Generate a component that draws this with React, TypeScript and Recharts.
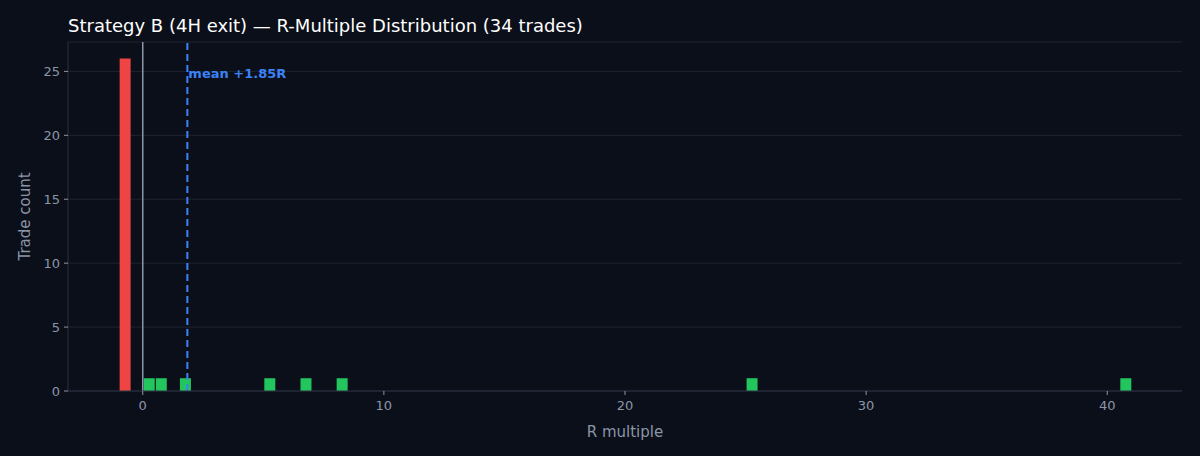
import React from 'react';
import { ComposedChart, Bar, XAxis, YAxis, CartesianGrid, ReferenceLine, Cell } from 'recharts';

const binCenters = [-0.75, 0.25, 0.75, 1.75, 5.25, 6.75, 8.25, 25.25, 40.75];
const binCounts = [26, 1, 1, 1, 1, 1, 1, 1, 1];
const xTicks = [0, 10, 20, 30, 40];
const yTicks = [0, 5, 10, 15, 20, 25];
const meanR = 1.85;
const tradeCount = 34;

const data = binCenters.map((c, i) => ({ r: c, count: binCounts[i] }));

const BG = '#0b0f19';
const GRID = '#1e2430';
const SPINE = '#2a3140';
const TICK = '#8b95a8';
const FONT = '"DejaVu Sans", sans-serif';

export default function App() {
  return (
    <div style={{ position: 'absolute', left: 0, top: 0, width: 1200, height: 456, background: BG, fontFamily: FONT }}>
      <div style={{ position: 'absolute', left: 68, top: 16, fontSize: 18, lineHeight: '20px', color: '#ffffff', whiteSpace: 'nowrap' }}>
        {`Strategy B (4H exit) — R-Multiple Distribution (${tradeCount} trades)`}
      </div>
      <ComposedChart
        width={1200}
        height={456}
        data={data}
        margin={{ top: 42, right: 18, left: 0, bottom: 0 }}
        style={{ position: 'absolute', left: 0, top: 0 }}
      >
        <CartesianGrid horizontal vertical={false} stroke={GRID} strokeWidth={1} />
        <XAxis
          xAxisId="top"
          orientation="top"
          type="number"
          dataKey="r"
          domain={[-3.1, 43.1]}
          height={0}
          tick={false}
          tickLine={false}
          axisLine={{ stroke: SPINE }}
        />
        <YAxis
          yAxisId="right"
          orientation="right"
          domain={[0, 27.3]}
          width={0}
          tick={false}
          tickLine={false}
          axisLine={{ stroke: SPINE }}
        />
        <XAxis
          type="number"
          dataKey="r"
          domain={[-3.1, 43.1]}
          ticks={xTicks}
          allowDataOverflow
          height={65}
          tickSize={4}
          tickMargin={6}
          tickLine={{ stroke: TICK }}
          axisLine={{ stroke: SPINE }}
          tick={{ fill: TICK, fontSize: 13, fontFamily: FONT }}
          label={{ value: 'R multiple', position: 'insideBottom', offset: 19, fill: TICK, fontSize: 15, fontFamily: FONT }}
        />
        <YAxis
          type="number"
          domain={[0, 27.3]}
          ticks={yTicks}
          allowDataOverflow
          width={68}
          tickSize={4}
          tickMargin={4}
          tickLine={{ stroke: TICK }}
          axisLine={{ stroke: SPINE }}
          tick={{ fill: TICK, fontSize: 13, fontFamily: FONT }}
          label={{
            content: (props: any) => {
              const vb = props.viewBox || { x: 0, y: 42, width: 68, height: 349 };
              const cx = vb.x + 25;
              const cy = vb.y + vb.height / 2;
              return (
                <text
                  x={cx}
                  y={cy}
                  transform={`rotate(-90, ${cx}, ${cy})`}
                  textAnchor="middle"
                  dominantBaseline="central"
                  fill={TICK}
                  fontSize={15}
                  fontFamily={FONT}
                >
                  Trade count
                </text>
              );
            },
          }}
        />
        <Bar dataKey="count" barSize={11} isAnimationActive={false}>
          {data.map((d, i) => (
            <Cell key={i} fill={d.r < 0 ? '#ef4444' : '#22c55e'} />
          ))}
        </Bar>
        <ReferenceLine x={0} stroke="#8d97aa" strokeWidth={1.5} />
        <ReferenceLine
          x={meanR}
          stroke="#3b82f6"
          strokeWidth={2}
          strokeDasharray="7 4"
          label={{
            content: (props: any) => {
              const vb = props.viewBox || { x: 187, y: 42 };
              return (
                <text
                  x={vb.x + 1}
                  y={vb.y + 31}
                  dominantBaseline="central"
                  fill="#3b82f6"
                  fontSize={13}
                  fontWeight="bold"
                  fontFamily={FONT}
                >
                  {`mean +${meanR.toFixed(2)}R`}
                </text>
              );
            },
          }}
        />
      </ComposedChart>
    </div>
  );
}
